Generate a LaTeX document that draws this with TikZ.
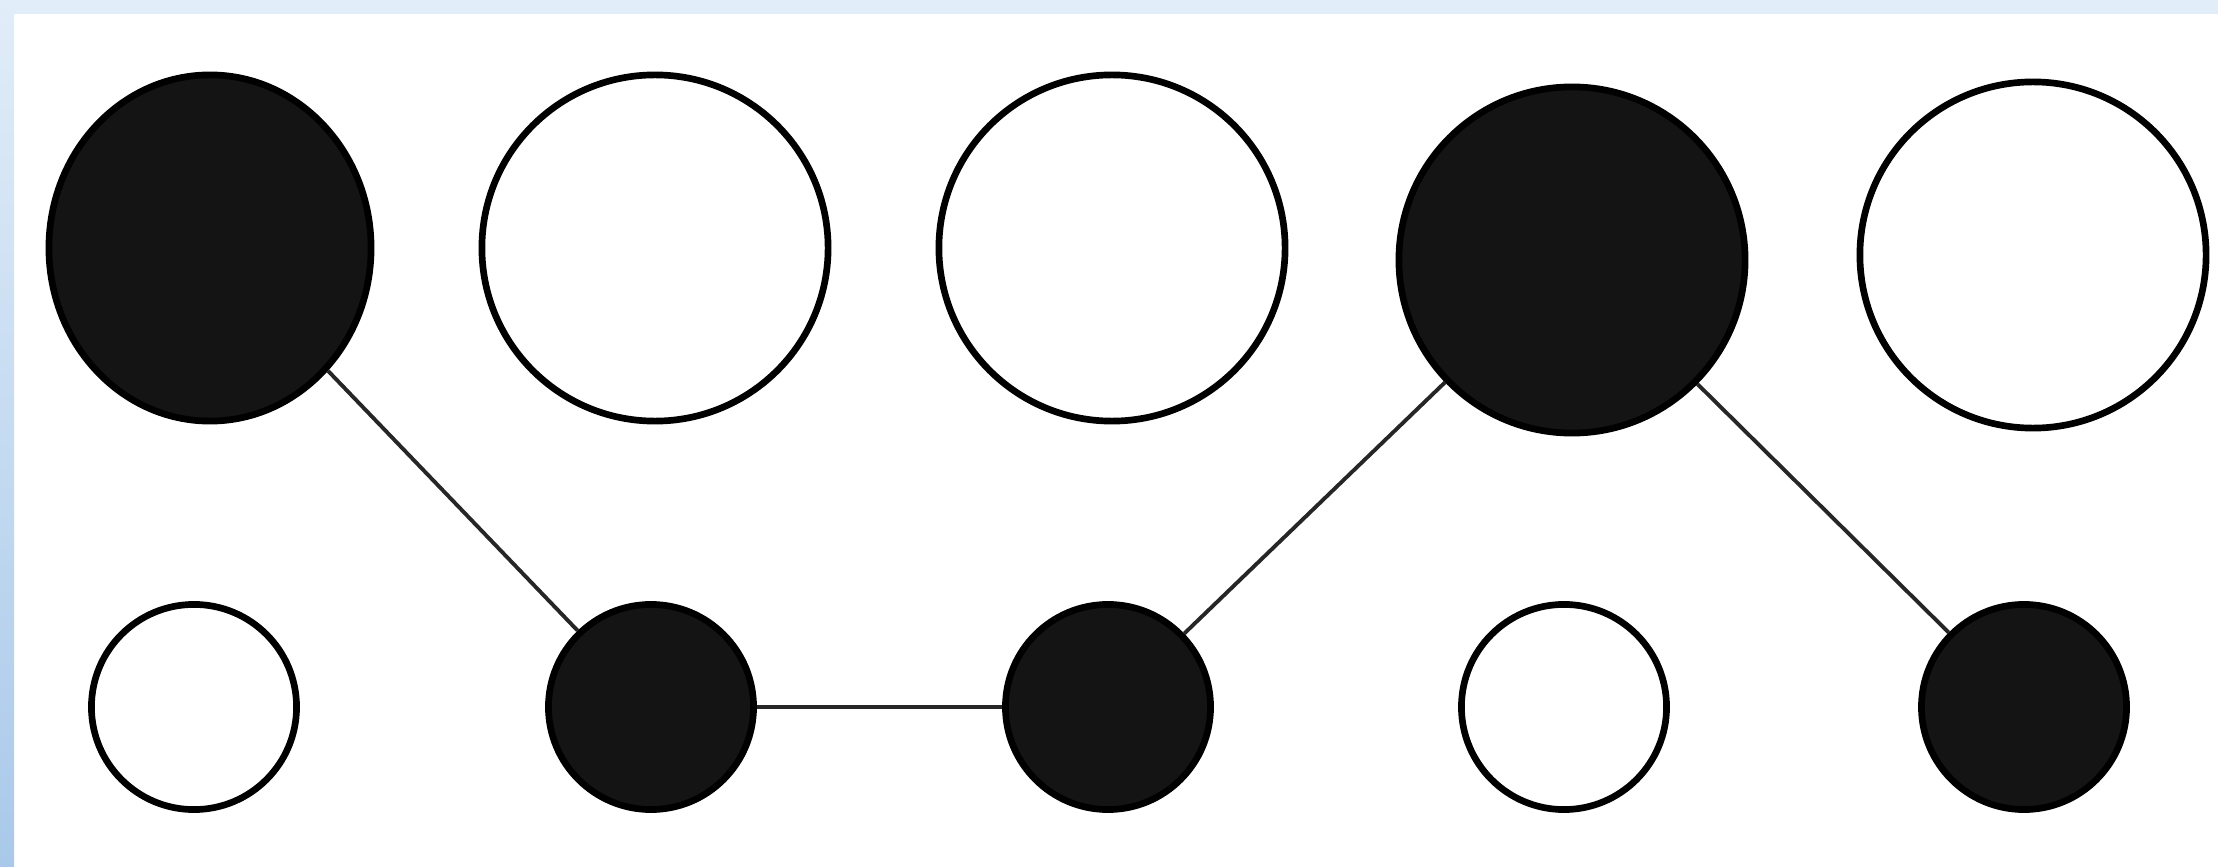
\documentclass[tikz,border=0pt]{standalone}
\usepackage{tikz}
\usetikzlibrary{shapes.geometric}

\definecolor{frameblue}{HTML}{A9C9EA}
\definecolor{framelight}{HTML}{E1EDF8}

\begin{document}
\begin{tikzpicture}[x=0.01cm, y=-0.01cm,
    ball/.style={ellipse, draw=black, line width=1.9pt, inner sep=0pt},
    full/.style={ball, fill=black!92},
    empty/.style={ball, fill=white},
    link/.style={line width=1.1pt, black!85}]
    % Frame
    \useasboundingbox (0,0) rectangle (2218,867);
    \fill[white] (0,0) rectangle (2218,867);
    \fill[framelight] (0,0) rectangle (2218,14);
    \shade[top color=framelight, bottom color=frameblue] (0,0) rectangle (14,867);

    % Upper row
    \node[full, minimum width=3.22cm, minimum height=3.46cm] (t1) at (210,248) {};
    \foreach \n/\x/\y/\s in {2/655/248/empty, 3/1112/248/empty,
                             4/1572/260/full, 5/2033/255/empty} {
      \node[\s, minimum size=3.46cm] (t\n) at (\x,\y) {};
    }

    % Lower row
    \foreach \n/\x/\s in {1/194/empty, 2/651/full, 3/1108/full,
                          4/1564/empty, 5/2024/full} {
      \node[\s, minimum size=2.05cm] (b\n) at (\x,707) {};
    }

    % Links
    \draw[link] (t1) -- (b2);
    \draw[link] (b2) -- (b3);
    \draw[link] (b3) -- (t4);
    \draw[link] (t4) -- (b5);
  \end{tikzpicture}
\end{document}
